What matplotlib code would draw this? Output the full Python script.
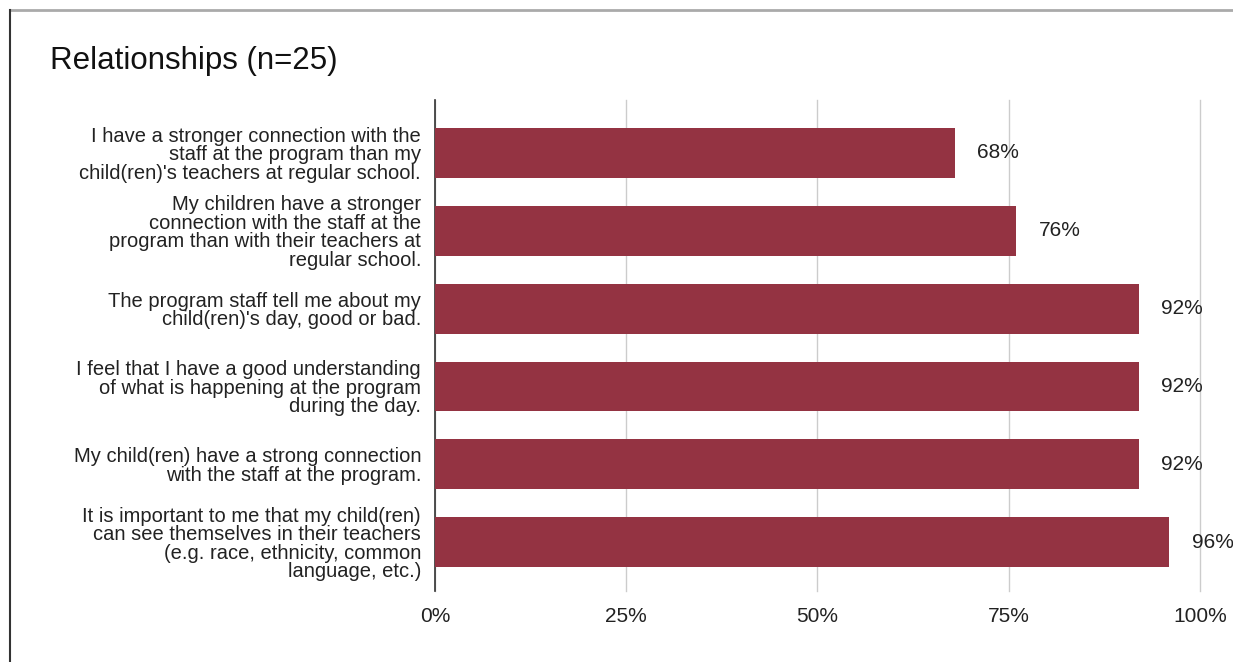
import numpy as np
import matplotlib.pyplot as plt
from matplotlib.lines import Line2D
from matplotlib.ticker import PercentFormatter

plt.rcParams['font.family'] = ['Liberation Sans', 'DejaVu Sans']

# DATA
questions = [
    "I have a stronger connection with the\nstaff at the program than my\nchild(ren)'s teachers at regular school.",
    "My children have a stronger\nconnection with the staff at the\nprogram than with their teachers at\nregular school.",
    "The program staff tell me about my\nchild(ren)'s day, good or bad.",
    "I feel that I have a good understanding\nof what is happening at the program\nduring the day.",
    "My child(ren) have a strong connection\nwith the staff at the program.",
    "It is important to me that my child(ren)\ncan see themselves in their teachers\n(e.g. race, ethnicity, common\nlanguage, etc.)",
]
percent_agree = [68, 76, 92, 92, 92, 96]
x_ticks = [0, 25, 50, 75, 100]

bar_color = '#943342'

fig = plt.figure(figsize=(12.33, 6.62), dpi=100)
ax = fig.add_axes([0.3528, 0.108, 0.6204, 0.741])

y = np.arange(len(questions))
ax.barh(y, percent_agree, height=0.64, color=bar_color, zorder=3)

for yi, v in zip(y, percent_agree):
    ax.annotate(f'{v}%', xy=(v, yi), xytext=(16, 0), textcoords='offset points',
                va='center', ha='left', fontsize=15, color='#222222')

ax.set_yticks(y)
ax.set_yticklabels(questions, fontsize=14.5, linespacing=0.96, color='#222222')
ax.set_ylim(5.62, -0.68)
ax.set_xlim(0, 100)
ax.set_xticks(x_ticks)
ax.xaxis.set_major_formatter(PercentFormatter(decimals=0))
ax.tick_params(axis='x', length=0, labelsize=15, pad=12, colors='#222222')
ax.tick_params(axis='y', length=0, pad=10)
ax.grid(axis='x', color='#cccccc', linewidth=1, zorder=0)
for gl in ax.get_xgridlines():
    gl.set_clip_on(False)

for s in ['top', 'right', 'bottom']:
    ax.spines[s].set_visible(False)
ax.spines['left'].set_color('#333333')
ax.spines['left'].set_linewidth(1.2)

fig.text(0.0405, 0.908, 'Relationships (n=25)', fontsize=22.5, color='#111111',
         ha='left', va='center')

# outer frame lines
fig.add_artist(Line2D([0.0081, 1.0], [0.985, 0.985], color='#aaaaaa', linewidth=2,
                      transform=fig.transFigure))
fig.add_artist(Line2D([0.0081, 0.0081], [0.0, 0.985], color='#333333', linewidth=1.5,
                      transform=fig.transFigure))

fig.savefig('out.png', dpi=100, facecolor='white')
